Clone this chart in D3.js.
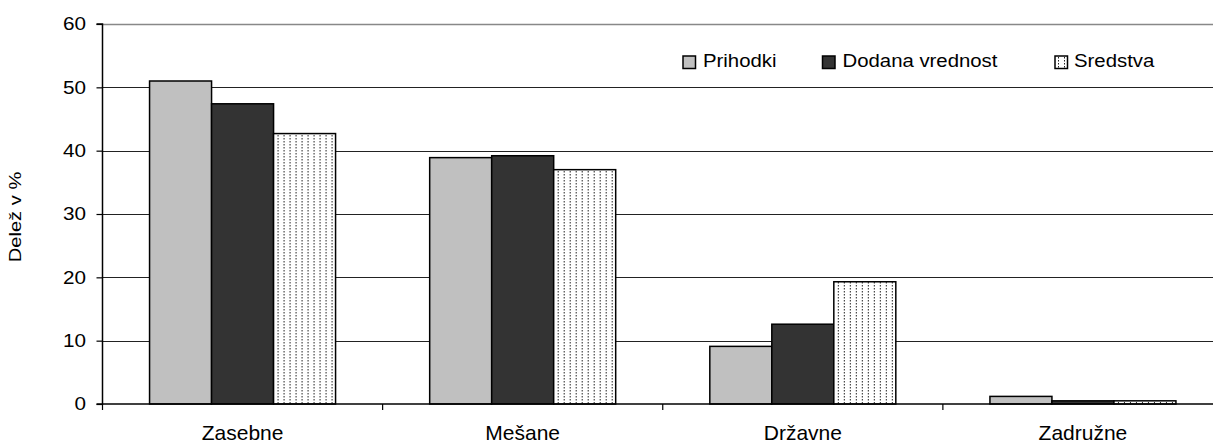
<!DOCTYPE html>
<html>
<head>
<meta charset="utf-8">
<script src="https://cdn.jsdelivr.net/npm/d3@7"></script>
<style>
  html, body { margin: 0; padding: 0; background: #fff; }
  svg { display: block; font-family: "Liberation Sans", Arial, sans-serif; }
</style>
</head>
<body>
<svg id="chart" width="1213" height="443"></svg>
<script>
const categories = ["Zasebne", "Mešane", "Državne", "Zadružne"];
const seriesNames = ["Prihodki", "Dodana vrednost", "Sredstva"];
const prihodki = [51.0, 38.9, 9.1, 1.2];
const dodanaVrednost = [47.4, 39.2, 12.6, 0.5];
const sredstva = [42.7, 37.0, 19.3, 0.5];
const yTicks = [0, 10, 20, 30, 40, 50, 60];
const yLabel = "Delež v %";

const seriesValues = [prihodki, dodanaVrednost, sredstva];

const svg = d3.select("#chart");
const W = 1213, H = 443;
const plot = { left: 102.5, right: 1223, top: 24, bottom: 404 };

const defs = svg.append("defs");
const pat = defs.append("pattern")
  .attr("id", "dots")
  .attr("patternUnits", "userSpaceOnUse")
  .attr("width", 6).attr("height", 3);
pat.append("rect").attr("width", 6).attr("height", 3).attr("fill", "#fff");
pat.append("rect").attr("x", 2).attr("y", 0).attr("width", 1).attr("height", 1.5).attr("fill", "#222");

const fills = ["#c0c0c0", "#333333", "url(#dots)"];

const x0 = d3.scaleBand().domain(categories)
  .range([plot.left, plot.right])
  .paddingInner(0.336).paddingOuter(0.168);
const x1 = d3.scaleBand().domain(seriesNames).range([0, x0.bandwidth()]).padding(0);
const y = d3.scaleLinear().domain([0, 60]).range([plot.bottom, plot.top]);

// gridlines
svg.append("g").selectAll("line").data(yTicks.filter(t => t > 0)).join("line")
  .attr("x1", plot.left).attr("x2", W)
  .attr("y1", d => Math.round(y(d)) + 0.5).attr("y2", d => Math.round(y(d)) + 0.5)
  .attr("stroke", d => d === 60 ? "#888" : "#222").attr("stroke-width", d => d === 60 ? 1.5 : 1);

// bars
const groups = svg.append("g").selectAll("g").data(categories).join("g")
  .attr("transform", d => `translate(${x0(d)},0)`);
groups.selectAll("rect")
  .data((c, ci) => seriesNames.map((s, si) => ({ s, si, v: seriesValues[si][ci] })))
  .join("rect")
  .attr("x", d => x1(d.s))
  .attr("y", d => y(d.v))
  .attr("width", x1.bandwidth())
  .attr("height", d => y(0) - y(d.v))
  .attr("fill", d => fills[d.si])
  .attr("stroke", "#000")
  .attr("stroke-width", 1.5);

// y axis
const yAxis = d3.axisLeft(y).tickValues(yTicks).tickSize(6).tickPadding(10).tickFormat(d3.format("d"));
const gy = svg.append("g").attr("transform", `translate(${plot.left},0)`).call(yAxis);
gy.select(".domain").attr("stroke", "#000").attr("stroke-width", 1.5).attr("d", `M-6,${plot.top}H0V${plot.bottom}H-6`);
gy.selectAll(".tick line").attr("stroke", "#000").attr("stroke-width", 1.2);
gy.selectAll(".tick text").attr("fill", "#000").attr("font-size", 18)
  .attr("font-family", "'Liberation Sans', Arial, sans-serif")
  .attr("text-anchor", "end")
  .each(function() {
    d3.select(this).attr("x", 0).attr("transform", `translate(-16.5,0) scale(1.15,1)`);
  });

// x axis
const xAxis = d3.axisBottom(x0).tickSize(0).tickPadding(0);
const gx = svg.append("g").attr("transform", `translate(0,${plot.bottom})`).call(xAxis);
gx.select(".domain").attr("stroke", "#000").attr("stroke-width", 1.5).attr("d", `M${plot.left},0H${W}`);
gx.selectAll(".tick text").attr("fill", "#000").attr("font-size", 21)
  .attr("font-family", "'Liberation Sans', Arial, sans-serif")
  .attr("dy", null).attr("y", 35.5);
// category boundary ticks
const step = x0.step();
const boundaries = categories.map((c, i) => plot.left + i * step);
svg.append("g").selectAll("line").data(boundaries).join("line")
  .attr("x1", d => d).attr("x2", d => d)
  .attr("y1", plot.bottom).attr("y2", plot.bottom + 6)
  .attr("stroke", "#000").attr("stroke-width", 1.2);

// y label
svg.append("text")
  .attr("transform", "translate(21,217) rotate(-90) scale(1.22,1)")
  .attr("text-anchor", "middle")
  .attr("font-size", 16.5)
  .attr("fill", "#000")
  .text(yLabel);

// legend
const legendPos = [
  { sx: 683, tx: 703 },
  { sx: 822.5, tx: 842.5 },
  { sx: 1055, tx: 1074 }
];
const lg = svg.append("g");
seriesNames.forEach((s, i) => {
  lg.append("rect")
    .attr("x", legendPos[i].sx).attr("y", 56)
    .attr("width", 12.5).attr("height", 12.5)
    .attr("fill", fills[i]).attr("stroke", "#000").attr("stroke-width", 1.5);
  lg.append("text")
    .attr("transform", `translate(${legendPos[i].tx},66.5) scale(1.1,1)`)
    .attr("font-size", 18.5)
    .attr("fill", "#000")
    .text(s);
});
</script>
</body>
</html>
